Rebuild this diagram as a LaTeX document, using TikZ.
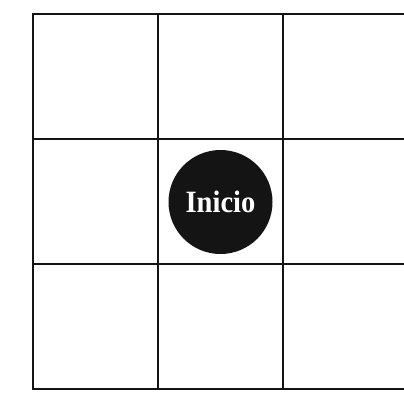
\documentclass[tikz,border=0pt]{standalone}
\usepackage{fontspec}
\setmainfont{Liberation Serif}
\begin{document}
\begin{tikzpicture}[x=1pt,y=-1pt,
  gridline/.style={line width=2pt,black!92},
  startnode/.style={circle,fill=black!92,minimum size=104pt,inner sep=0pt,text=white,font=\bfseries\fontsize{31}{32}\selectfont}]
\useasboundingbox[fill=white] (0,0) rectangle (404,402);
\foreach \x in {33.3,157.8,283.3}{
  \draw[gridline] (\x,14.4) -- (\x,389.3);
}
\foreach \y in {14.4,138.5,264,389.3}{
  \draw[gridline] (32.3,\y) -- (405,\y);
}
\node[startnode] (inicio) at (220.5,202) {\scalebox{0.92}[1]{Inicio}};
\end{tikzpicture}
\end{document}
